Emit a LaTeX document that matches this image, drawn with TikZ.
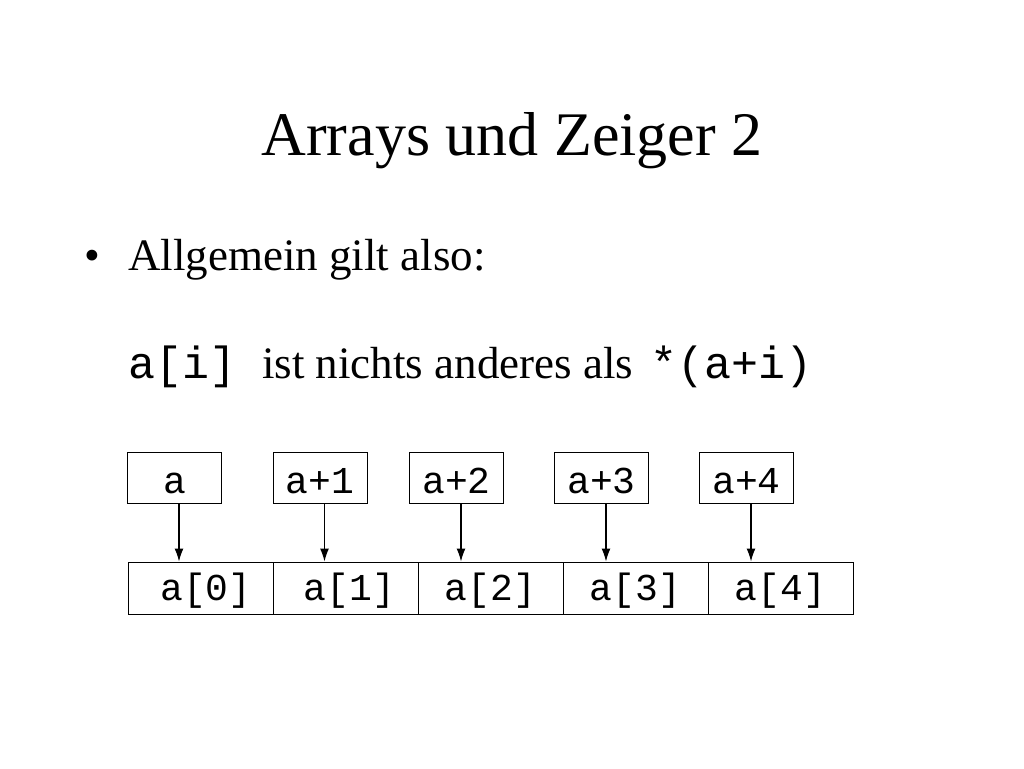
\documentclass[tikz,border=0pt]{standalone}
\usepackage{fontspec}
\setmainfont{Liberation Serif}
\setmonofont{Liberation Mono}
\usetikzlibrary{arrows.meta}

\begin{document}
\begin{tikzpicture}[x=1pt,y=-1pt,
        txt/.style={inner sep=0pt, anchor=base west},
        ptrbox/.style={draw, line width=1pt, inner sep=0pt, minimum width=94pt,
            minimum height=51pt, text height=31pt, text depth=0pt,
            font=\fontsize{38}{38}\selectfont\ttfamily},
        cellbox/.style={draw, line width=1pt, inner sep=0pt, minimum width=145pt,
            minimum height=52pt, text height=24pt, text depth=0pt,
            font=\fontsize{38}{38}\selectfont\ttfamily},
        ptr/.style={line width=1.2pt, -{Latex[length=13pt,width=9pt]}}]
        \useasboundingbox (0,0) rectangle (1024,768);

        % Title and text lines
        \node[inner sep=0pt, anchor=base, font=\fontsize{62}{62}\selectfont] (title) at (512,155) {Arrays und Zeiger 2};
        \node[txt, font=\fontsize{45}{45}\selectfont] (bullet) at (84,270) {\textbullet};
        \node[txt, font=\fontsize{45}{45}\selectfont] (rule) at (128,270) {Allgemein gilt also:};
        \node[txt, font=\fontsize{45}{45}\selectfont\ttfamily] (lhs) at (128,378) {a[i]};
        \node[txt, font=\fontsize{45}{45}\selectfont] (mid) at (262,378) {ist nichts anderes als};
        \node[txt, font=\fontsize{45}{45}\selectfont\ttfamily] (rhs) at (650,378) {*(a+i)};

        % Pointer boxes a ... a+4
        \node[ptrbox] (p0) at (174.5,477.5) {a};
        \node[ptrbox] (p1) at (320,477.5) {a+1};
        \node[ptrbox] (p2) at (456.5,477.5) {a+2};
        \node[ptrbox] (p3) at (601.5,477.5) {a+3};
        \node[ptrbox] (p4) at (746.5,477.5) {a+4};

        % Array cells a[0] ... a[4]
        \node[cellbox] (c0) at (200.5,588) {\hspace{11pt}a[0]};
        \node[cellbox] (c1) at (345.5,588) {\hspace{8pt}a[1]};
        \node[cellbox] (c2) at (490.5,588) {a[2]};
        \node[cellbox] (c3) at (635.5,588) {a[3]};
        \node[cellbox] (c4) at (780.5,588) {a[4]\hspace{6pt}};

        % Arrows from the pointers to the cells
        \draw[ptr] ([xshift=4.5pt]p0.south) -- ([xshift=4.5pt]p0.south |- c0.north);
        \draw[ptr] ([xshift=4.5pt]p1.south) -- ([xshift=4.5pt]p1.south |- c1.north);
        \draw[ptr] ([xshift=4.5pt]p2.south) -- ([xshift=4.5pt]p2.south |- c2.north);
        \draw[ptr] ([xshift=4.5pt]p3.south) -- ([xshift=4.5pt]p3.south |- c3.north);
        \draw[ptr] ([xshift=4.5pt]p4.south) -- ([xshift=4.5pt]p4.south |- c4.north);
    \end{tikzpicture}
\end{document}
